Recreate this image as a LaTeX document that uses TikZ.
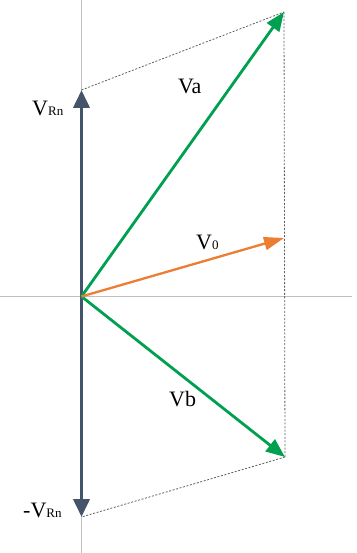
\documentclass[tikz,border=0pt]{standalone}
\usepackage{fontspec}
\setmainfont{Liberation Serif}
\usetikzlibrary{arrows.meta}
\definecolor{navy}{HTML}{44546A}
\definecolor{vgreen}{RGB}{0,160,80}
\definecolor{vorange}{HTML}{ED7D31}
\definecolor{axisgray}{HTML}{BFBFBF}
\definecolor{dotgray}{HTML}{5F5F5F}
\newcommand{\bigtxt}[1]{{\fontsize{22}{22}\selectfont #1}}
\newcommand{\smallsub}[1]{{\fontsize{13}{13}\selectfont #1}}
\tikzset{
  axisline/.style={draw=axisgray, line width=1.1pt},
  guide/.style={draw=dotgray, line width=0.8pt, dash pattern=on 2pt off 1.6pt},
  rnarrow/.style={draw=navy, line width=3.8pt, -{Triangle[length=18pt,width=16pt]}},
  greenarrow/.style={draw=vgreen, line width=2.8pt, -{Triangle[length=19pt,width=15pt]}},
  orangearrow/.style={draw=vorange, line width=2.3pt, -{Triangle[length=20pt,width=13pt]}},
  vlabel/.style={anchor=base west, inner sep=0pt, text=black},
}
\begin{document}
\begin{tikzpicture}[x=1pt,y=-1pt]
\useasboundingbox (0,0) rectangle (356,553);
\coordinate (O) at (81.5,296.5);
\coordinate (Rn) at (81.5,90);
\coordinate (mRn) at (81.5,517);
\coordinate (A) at (284,12);
\coordinate (B) at (285,457);
\coordinate (Z) at (284,238);
\coordinate (top) at (81.5,0);
\coordinate (bot) at (81.5,553);
\coordinate (left) at (0,296.5);
\coordinate (right) at (352,296.5);
% axes
\draw[axisline] (top) -- (bot);
\draw[axisline] (left) -- (right);
% guide lines
\draw[guide] (Rn) -- (A);
\draw[guide] (A) -- (B);
\draw[guide] (B) -- (mRn);
% vectors
\draw[rnarrow] (O) -- (Rn);
\draw[rnarrow] (O) -- (mRn);
\draw[greenarrow] (O) -- (A);
\draw[greenarrow] (O) -- (B);
\draw[orangearrow] (O) -- (Z);
% labels
\node[vlabel] (lRn) at (32,116) {\bigtxt{V}\smallsub{Rn}};
\node[vlabel] (lmRn) at (23,517) {\bigtxt{-V}\smallsub{Rn}};
\node[vlabel] (lA) at (178,94) {\bigtxt{Va}};
\node[vlabel] (lB) at (169,406) {\bigtxt{Vb}};
\node[vlabel] (lZ) at (196,249) {\bigtxt{V}\smallsub{0}};
\end{tikzpicture}
\end{document}
